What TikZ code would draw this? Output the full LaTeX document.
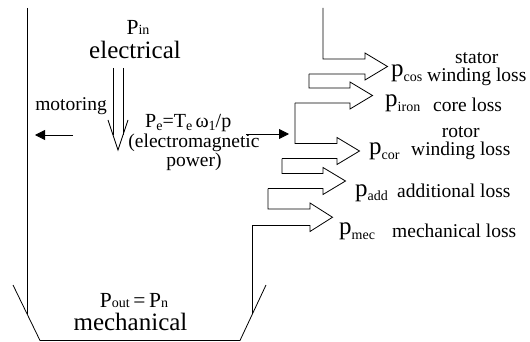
\documentclass[tikz,border=0pt]{standalone}
\usepackage{fontspec}
\setmainfont{Liberation Serif}
\usetikzlibrary{arrows.meta,calc}
\tikzset{
  edge/.style={draw=black, line width=0.8pt},
  ptr/.style={edge, -{Triangle[length=10pt, width=10pt]}},
  big/.style={inner sep=0pt, font=\fontsize{25}{27}\selectfont},
  mid/.style={inner sep=0pt, font=\fontsize{21.5}{23}\selectfont},
  small/.style={inner sep=0pt, font=\fontsize{19.5}{21}\selectfont},
}
\newcommand{\lsub}[2][1pt]{\raisebox{-#1}{\fontsize{14}{14}\selectfont #2}}
\newcommand{\Branch}[6]{% {xtop}{yfrom}{ytop}{ybot}{xbot}{xbase}
  \draw[edge] (#1,#2) -- (#1,#3) -- (#6,#3) -- (#6,#3-6)
       -- (#6+22.5,{(#3+#4)/2}) -- (#6,#4+6) -- (#6,#4) -- (#5,#4);}
\begin{document}
\begin{tikzpicture}[x=1pt, y=-1pt]
  \useasboundingbox (0,0) rectangle (530,342);
  % machine outline
  \draw[edge] (27,8) -- (27,314);
  \draw[edge] (13,285) -- (40,340.5) -- (240,340.5) -- (266,285);
  % loss branches
  \Branch{323}{8}{59}{74}{309}{365}
  \Branch{309}{74}{88}{103}{295}{350}
  \Branch{295}{103}{143.5}{158.5}{282}{337}
  \Branch{282}{158.5}{173.5}{188.5}{268}{323}
  \Branch{268}{188.5}{209}{225.5}{252}{310}
  \draw[edge] (252,225.5) -- (252,314);
  % input power
  \draw[edge] (113,68) -- (113,135);
  \draw[edge] (123,68) -- (123,135);
  \draw[edge] (108,120) -- (118,150) -- (128,120);
  \coordinate (motR) at (73,135);
  \coordinate (motL) at (35,135);
  \draw[ptr] (motR) -- (motL);
  \coordinate (peL) at (246,134);
  \coordinate (peR) at (289,134);
  \draw[ptr] (peL) -- (peR);
  % labels
  \node[mid, anchor=base] (pin) at (138,35) {P\lsub[0pt]{in}};
  \node[big, anchor=base] (elec) at (135,58.5) {electrical};
  \node[small, anchor=base] (motor) at (71,111) {motoring};
  \node[mid, anchor=base west, font=\fontsize{20}{22}\selectfont] (pe) at (145,128)
    {P\lsub[3pt]{e}=T\lsub[3pt]{e}\,ω\lsub[3pt]{1}/p};
  \node[small, anchor=base] (emp1) at (194,148) {(electromagnetic};
  \node[small, anchor=base] (emp2) at (194,167) {power)};
  \node[mid, anchor=base] (pout) at (134,307) {P\lsub[0pt]{out}\,=\,P\lsub[0pt]{n}};
  \node[big, anchor=base] (mech) at (130.5,330) {mechanical};
  \node[big, anchor=base west] (pcos) at (391,77) {p\lsub[5pt]{cos}};
  \node[small, anchor=base west] (wnd1) at (427,82) {winding loss};
  \node[small, anchor=base] (stator) at ($(wnd1.base)+(0,-18)$) {stator};
  \node[big, anchor=base west] (piron) at (385,107) {p\lsub[5pt]{iron}};
  \node[small, anchor=base west] (core) at (433,112) {core loss};
  \node[big, anchor=base west] (pcor) at (369,154) {p\lsub[5pt]{cor}};
  \node[small, anchor=base west] (wnd2) at (411,156) {winding loss};
  \node[small, anchor=base] (rotor) at ($(wnd2.base)+(0,-18)$) {rotor};
  \node[big, anchor=base west] (padd) at (355,196) {p\lsub[5pt]{add}};
  \node[small, anchor=base west] (addl) at (397,197) {additional loss};
  \node[big, anchor=base west] (pmec) at (339,234) {p\lsub[5pt]{mec}};
  \node[small, anchor=base west] (mecl) at (392,237) {mechanical loss};
\end{tikzpicture}
\end{document}
